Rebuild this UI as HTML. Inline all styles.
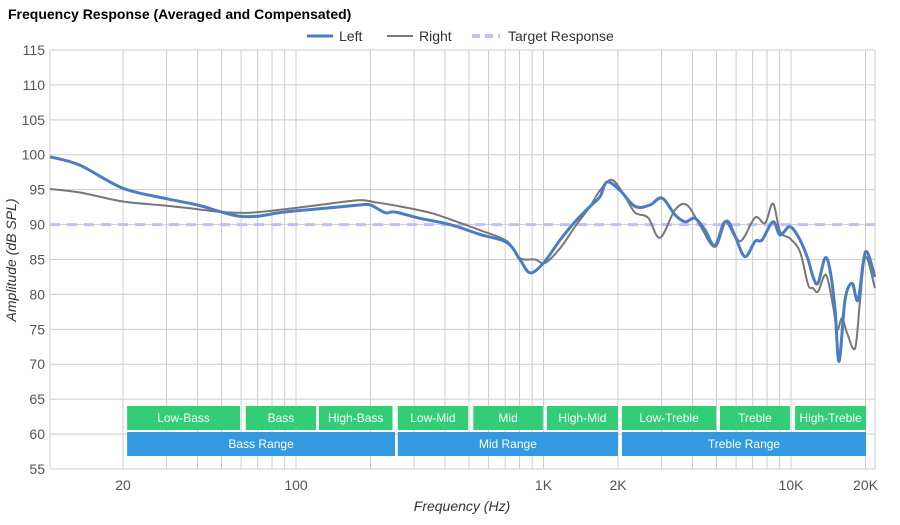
<!DOCTYPE html>
<html><head><meta charset="utf-8"><style>
body{margin:0;background:#fff;font-family:"Liberation Sans",sans-serif}
svg text{font-family:"Liberation Sans",sans-serif}
</style></head><body>
<svg id="chart" width="900" height="520" xmlns="http://www.w3.org/2000/svg">
<rect width="900" height="520" fill="#fff"/>
<text x="8" y="19" font-size="14" font-weight="bold" fill="#000">Frequency Response (Averaged and Compensated)</text>
<g id="grid"></g>
<g id="bands"></g>
<g id="series"></g>
<g id="axes"></g>
<g>
  <g><line x1="307" y1="36" x2="333" y2="36" stroke="#4a7ec4" stroke-width="3"/><text x="339" y="41" font-size="14" fill="#333">Left</text></g>
  <g><line x1="387" y1="36" x2="413" y2="36" stroke="#777" stroke-width="2"/><text x="419" y="41" font-size="14" fill="#333">Right</text></g>
  <g><line x1="472" y1="36" x2="500" y2="36" stroke="#c0c0f8" stroke-width="4" stroke-dasharray="8,5"/><text x="508" y="41" font-size="14" fill="#333">Target Response</text></g>
</g>
<text transform="translate(16,260) rotate(-90)" text-anchor="middle" font-size="14" font-style="italic" fill="#333">Amplitude (dB SPL)</text>
<text x="462" y="511" text-anchor="middle" font-size="14" font-style="italic" fill="#333">Frequency (Hz)</text>
</svg>
<script>
const leftFreq=[10.1,13.4,20,30,40,50,59,70,90,137,181,200,229,251,317,419,554,713,803,882,1000,1167,1340,1542,1691,1807,2037,2344,2692,3013,3400,3733,4093,4496,4931,5411,5940,6518,7158,7640,8457,9036,9910,10870,11720,12280,12860,13720,14380,15070,15640,16530,17650,18670,20000,21830];
const leftDb=[99.7,98.5,95.2,93.7,92.8,91.8,91.2,91.2,91.8,92.4,92.8,92.8,91.7,91.8,90.9,90.0,88.6,87.4,85.0,83.1,84.5,87.8,90.4,92.6,94.0,96.1,94.9,92.6,92.8,93.8,91.4,90.4,90.9,89.2,87.0,90.4,88.3,85.4,87.6,87.8,90.4,88.5,89.7,87.8,85.0,82.5,81.6,85.2,83.5,77.8,70.4,79.2,81.6,79.2,86.1,82.5];
const rightFreq=[10.1,13.4,20,30,40,50,65,90,137,181,209,263,348,439,554,713,803,925,1014,1167,1340,1542,1691,1892,2135,2344,2643,2957,3400,3802,4287,4931,5510,6222,7158,7855,8457,9036,9910,10870,11720,12280,12860,13850,14790,15350,16080,16840,18150,19020,20000,21830];
const rightDb=[95.1,94.6,93.3,92.7,92.2,91.8,91.7,92.2,93.0,93.5,93.2,92.6,91.7,90.5,89.2,87.6,85.2,85.0,84.5,86.6,89.7,92.6,94.9,96.4,94.0,91.7,91.0,88.1,92.1,92.8,89.9,86.8,90.6,87.6,91.0,90.2,93.0,89.0,88.0,86.1,81.4,80.9,80.4,82.8,78.3,74.9,76.6,74.5,72.3,79.2,85.4,80.9];
const yTicks=[55,60,65,70,75,80,85,90,95,100,105,110,115];
const xLabelVals=[20,100,1000,2000,10000,20000];
const xLabelText=["20","100","1K","2K","10K","20K"];
const bandNames=["Low-Bass","Bass","High-Bass","Low-Mid","Mid","High-Mid","Low-Treble","Treble","High-Treble"];
const bandLo=[20.4,61.5,121.5,253,511,1013,2037,5070,10200];
const bandHi=[60.5,122.8,250,505,1013,2037,5070,10090,20470];
const rangeNames=["Bass Range","Mid Range","Treble Range"];
const rangeLo=[20.4,253,2037];
const rangeHi=[256,2037,20470];
const target=90;

const NS="http://www.w3.org/2000/svg";
const X0=50,X1=875;
function xs(f){return 123+Math.log10(f/20)*247.5;}
function ys(d){return 50+(115-d)*6.983;}
function mk(tag,attrs,parent){const e=document.createElementNS(NS,tag);for(const k in attrs)e.setAttribute(k,attrs[k]);parent.appendChild(e);return e;}
const grid=document.getElementById('grid');
yTicks.forEach(t=>{const l=mk('line',{x1:X0,x2:X1,y1:ys(t),y2:ys(t),stroke:'#ccc','stroke-width':1},grid);

});
const vg=[];
for(let d=10;d<=10000;d*=10){for(let m=1;m<10;m++){const f=d*m;if(f>=20&&f<=20000)vg.push(f);}}
vg.push(20000);
vg.forEach(f=>{const l=mk('line',{x1:xs(f),x2:xs(f),y1:50,y2:469,stroke:'#ccc','stroke-width':1},grid);

});
mk('line',{x1:X0,x2:X0,y1:50,y2:469,stroke:'#ccc'},grid);
mk('line',{x1:X1,x2:X1,y1:50,y2:469,stroke:'#ccc'},grid);
const axes=document.getElementById('axes');
yTicks.forEach(t=>{const tx=mk('text',{x:45,y:ys(t)+5,'text-anchor':'end','font-size':14,fill:'#555'},axes);tx.textContent=t;

});
xLabelVals.forEach((f,i)=>{const tx=mk('text',{x:xs(f),y:490,'text-anchor':'middle','font-size':14,fill:'#555'},axes);tx.textContent=xLabelText[i];

});
const bands=document.getElementById('bands');
bandNames.forEach((n,i)=>{const a=xs(bandLo[i])+2,b=xs(bandHi[i])-2;
const r=mk('rect',{x:a,y:406,width:b-a,height:24,fill:'#33cc77'},bands);


const t=mk('text',{x:(a+b)/2,y:422,'text-anchor':'middle','font-size':12,fill:'#fff'},bands);t.textContent=n;});
rangeNames.forEach((n,i)=>{const a=xs(rangeLo[i])+2,b=xs(rangeHi[i])-2;
const r=mk('rect',{x:a,y:432,width:b-a,height:24,fill:'#3399e0'},bands);


const t=mk('text',{x:(a+b)/2,y:448,'text-anchor':'middle','font-size':12,fill:'#fff'},bands);t.textContent=n;});
function path(fr,db){const p=fr.map((f,i)=>[Math.max(X0,Math.min(X1,xs(f))),ys(db[i])]);
let d='M'+p[0][0].toFixed(1)+','+p[0][1].toFixed(1);
for(let i=0;i<p.length-1;i++){const p0=p[i-1]||p[i],p1=p[i],p2=p[i+1],p3=p[i+2]||p2;
const c1=[p1[0]+(p2[0]-p0[0])/6,p1[1]+(p2[1]-p0[1])/6],c2=[p2[0]-(p3[0]-p1[0])/6,p2[1]-(p3[1]-p1[1])/6];
d+=' C'+c1.map(v=>v.toFixed(1))+' '+c2.map(v=>v.toFixed(1))+' '+p2.map(v=>v.toFixed(1));}
return d;}
const ser=document.getElementById('series');
const tl=mk('line',{x1:X0,x2:X1,y1:ys(target),y2:ys(target),stroke:'#c0c0f8','stroke-width':3,'stroke-dasharray':'10,7'},ser);


const rp=mk('path',{d:path(rightFreq,rightDb),fill:'none',stroke:'#777','stroke-width':2},ser);


const lp=mk('path',{d:path(leftFreq,leftDb),fill:'none',stroke:'#4a7ec4','stroke-width':3},ser);


</script>
</body></html>
